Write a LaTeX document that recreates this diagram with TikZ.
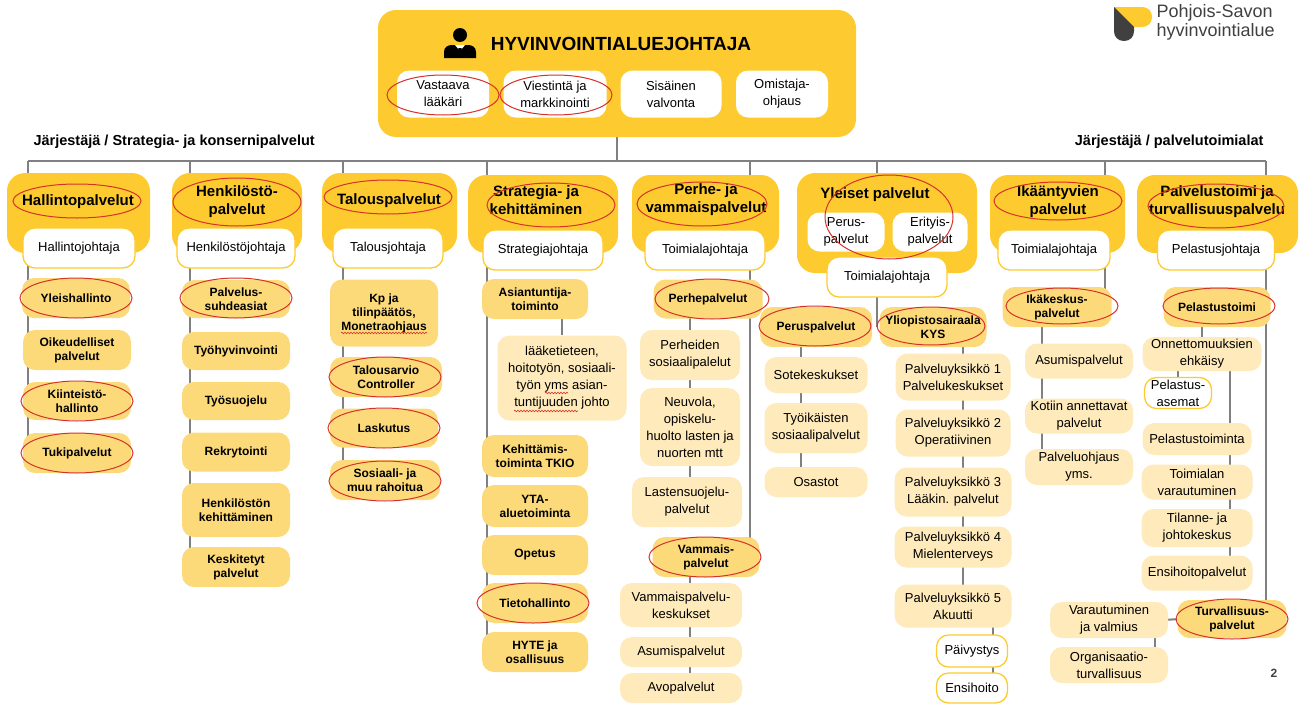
\documentclass[tikz,border=0pt]{standalone}
\usepackage{fontspec}
\setmainfont{Liberation Sans}
\usetikzlibrary{decorations.pathmorphing}
\definecolor{gold}{RGB}{253,203,47}
\definecolor{subdark}{RGB}{252,218,122}
\definecolor{sublight}{RGB}{254,234,186}
\definecolor{lgray}{RGB}{128,128,128}
\definecolor{ringred}{RGB}{214,50,42}
\definecolor{logogray}{RGB}{64,64,64}
\pgfdeclarelayer{bg}
\pgfsetlayers{bg,main}
\newcommand\fs[2]{\fontsize{#1}{#2}\selectfont}

\begin{document}
\begin{tikzpicture}[x=1pt,y=-1pt,
  wh/.style 2 args={minimum width=#1,minimum height=#2,inner sep=1},
  hdr/.style={fill=gold,rounded corners=18},
  htxt/.style={font=\fs{15}{18}\bfseries,align=center},
  wbox/.style={fill=white,draw=gold,line width=1.3,rounded corners=12,font=\fs{13}{17},align=center},
  ibox/.style={fill=white,rounded corners=12,font=\fs{13}{17},align=center},
  sbold/.style={fill=subdark,rounded corners=12,font=\fs{12}{14}\bfseries,align=center},
  slight/.style={fill=sublight,rounded corners=12,font=\fs{13}{17},align=center},
  sect/.style={font=\fs{14.5}{17}\bfseries},
  conn/.style={draw=lgray,line width=2},
  ring/.style={draw=ringred,line width=1},
  squig/.style={draw=ringred,line width=0.6,decorate,decoration={snake,amplitude=0.8,segment length=3}}]
\useasboundingbox (0,0) rectangle (1300,704);

% logo
\fill[gold] (1114,7) -- (1142,7) .. controls (1148,7) and (1152,11) .. (1152,17) .. controls (1152,23) and (1148,27) .. (1142,27) -- (1134,27) -- cycle;
\fill[logogray] (1114,7) -- (1134,27) -- (1134,31) .. controls (1134,37) and (1130,41) .. (1124,41) .. controls (1118,41) and (1114,37) .. (1114,31) -- cycle;
\node[anchor=west,align=left,text=logogray,font=\fs{18}{19}] (logo) at (1153,22) {Pohjois-Savon\\hyvinvointialue};

% johtaja
\node[hdr,wh={478}{127}] (top) at (617,73.5) {};
\node[font=\fs{19}{22}\bfseries] (ttl) at (621,44) {HYVINVOINTIALUEJOHTAJA};
\fill (460,35) circle[radius=7];
\fill (444,58) -- (444,52) .. controls (444,47) and (448,45) .. (452,45) -- (468,45) .. controls (472,45) and (476,47) .. (476,52) -- (476,58) -- cycle;
\fill[white] (455,45) -- (460,51) -- (465,45) -- cycle;
\fill (458.5,48) -- (461.5,48) -- (462,57) -- (458,57) -- cycle;
\node[ibox,wh={92}{47}] (vast) at (443,94) {Vastaava\\lääkäri};
\node[ibox,wh={103}{47}] (viest) at (555,94) {Viestintä ja\\markkinointi};
\node[ibox,wh={101}{47}] (sisa) at (671,94) {Sisäinen\\valvonta};
\node[ibox,wh={92}{47}] (omis) at (782,94) {Omistaja-\\ohjaus};

\node[sect,anchor=west] (lbl1) at (30,142) {Järjestäjä / Strategia- ja konsernipalvelut};
\node[sect,anchor=east] (lbl2) at (1267,142) {Järjestäjä / palvelutoimialat};

% Hallintopalvelut
\node[hdr,wh={143}{80}] (hal) at (78.5,213) {};
\node[htxt] (hal-t) at (78,202) {Hallintopalvelut};
\node[wbox,wh={112}{40}] (hal-j) at (79,248) {Hallintojohtaja};
\node[sbold,wh={108}{40}] (yh) at (76,298) {Yleishallinto};
\node[sbold,wh={108}{40}] (oik) at (77,350) {Oikeudelliset\\palvelut};
\node[sbold,wh={108}{38}] (kii) at (77,401) {Kiinteistö-\\hallinto};
\node[sbold,wh={108}{40}] (tuk) at (77,453) {Tukipalvelut};

% Henkilostopalvelut
\node[hdr,wh={130}{80}] (hen) at (237,213) {};
\node[htxt] (hen-t) at (237,202) {Henkilöstö-\\palvelut};
\node[wbox,wh={118}{40}] (hen-j) at (236,248) {Henkilöstöjohtaja};
\node[sbold,wh={108}{38}] (psa) at (236,299) {Palvelus-\\suhdeasiat};
\node[sbold,wh={108}{38}] (tyh) at (236,351) {Työhyvinvointi};
\node[sbold,wh={108}{38}] (tys) at (236,401) {Työsuojelu};
\node[sbold,wh={108}{39}] (rek) at (236,452) {Rekrytointi};
\node[sbold,wh={108}{54}] (hke) at (236,510) {Henkilöstön\\kehittäminen};
\node[sbold,wh={108}{40}] (kes) at (236,567) {Keskitetyt\\palvelut};

% Talouspalvelut
\node[hdr,wh={135}{80}] (tal) at (389.5,213) {};
\node[htxt] (tal-t) at (389,201) {Talouspalvelut};
\node[wbox,wh={110}{40}] (tal-j) at (388,248) {Talousjohtaja};
\node[sbold,wh={108}{67}] (kp) at (384,313) {Kp ja\\tilinpäätös,\\Monetraohjaus};
\node[sbold,wh={112}{40}] (tar) at (386,377) {Talousarvio\\Controller};
\node[sbold,wh={108}{39}] (las) at (384,428) {Laskutus};
\node[sbold,wh={110}{40}] (sos) at (385,480) {Sosiaali- ja\\muu rahoitua};

% Strategia
\node[hdr,wh={150}{78}] (str) at (543,214) {};
\node[htxt] (str-t) at (536,200) {Strategia- ja\\kehittäminen};
\node[wbox,wh={120}{40}] (str-j) at (543,250) {Strategiajohtaja};
\node[sbold,wh={106}{40}] (asi) at (535,299) {Asiantuntija-\\toiminto};
\node[slight,wh={129}{85}] (laa) at (562,378) {lääketieteen,\\hoitotyön, sosiaali-\\työn yms asian-\\tuntijuuden johto};
\node[sbold,wh={106}{42}] (keh) at (535,456) {Kehittämis-\\toiminta TKIO};
\node[sbold,wh={106}{42}] (yta) at (535,506) {YTA-\\aluetoiminta};
\node[sbold,wh={106}{40}] (ope) at (535,555) {Opetus};
\node[sbold,wh={106}{40}] (tie) at (535,603) {Tietohallinto};
\node[sbold,wh={106}{40}] (hyt) at (535,652) {HYTE ja\\osallisuus};

% Perhe- ja vammaispalvelut
\node[hdr,wh={147}{78}] (per) at (705.5,214) {};
\node[htxt] (per-t) at (706,200) {Perhe- ja\\vammaispalvelut};
\node[wbox,wh={120}{40}] (per-j) at (705,250) {Toimialajohtaja};
\node[sbold,wh={109}{39}] (php) at (708,299) {Perhepalvelut};
\node[slight,wh={100}{50}] (pso) at (690,355) {Perheiden\\sosiaalipalelut};
\node[slight,wh={100}{78}] (neu) at (690,427) {Neuvola,\\opiskelu-\\huolto lasten ja\\nuorten mtt};
\node[slight,wh={110}{50}] (lsu) at (687,502) {Lastensuojelu-\\palvelut};
\node[sbold,wh={107}{40}] (vam) at (706,557) {Vammais-\\palvelut};
\node[slight,wh={122}{44}] (vpk) at (681,605) {Vammaispalvelu-\\keskukset};
\node[slight,wh={122}{30}] (asu) at (681,652) {Asumispalvelut};
\node[slight,wh={122}{30}] (avo) at (681,688) {Avopalvelut};

% Yleiset palvelut
\node[hdr,wh={180}{100}] (yle) at (887,223) {};
\node[htxt] (yle-t) at (875,195) {Yleiset palvelut};
\node[ibox,wh={77}{39}] (yperus) at (846,232) {Perus-\\palvelut};
\node[ibox,wh={75}{39}] (yeri) at (930,232) {Erityis-\\palvelut};
\node[wbox,wh={120}{40}] (yle-j) at (887,277) {Toimialajohtaja};
\node[sbold,wh={112}{40}] (pp) at (816,327) {Peruspalvelut};
\node[sbold,wh={107}{40}] (kys) at (933,327) {Yliopistosairaala\\KYS};
\node[slight,wh={103}{36}] (sot) at (816,375) {Sotekeskukset};
\node[slight,wh={103}{50}] (tyo) at (816,428) {Työikäisten\\sosiaalipalvelut};
\node[slight,wh={103}{30}] (osa) at (816,482) {Osastot};
\node[slight,wh={115}{47}] (py1) at (953,377) {Palveluyksikkö 1\\Palvelukeskukset};
\node[slight,wh={115}{47}] (py2) at (953,433) {Palveluyksikkö 2\\Operatiivinen};
\node[slight,wh={117}{49}] (py3) at (953,492) {Palveluyksikkö 3\\Lääkin. palvelut};
\node[slight,wh={117}{41}] (py4) at (953,547) {Palveluyksikkö 4\\Mielenterveys};
\node[slight,wh={117}{43}] (py5) at (953,606) {Palveluyksikkö 5\\Akuutti};
\node[wbox,wh={71}{32}] (pai) at (972,651) {Päivystys};
\node[wbox,wh={71}{30}] (ens) at (972,688) {Ensihoito};

% Ikaantyvien palvelut
\node[hdr,wh={135}{78}] (ika) at (1057.5,214) {};
\node[htxt] (ika-t) at (1058,202) {Ikääntyvien\\palvelut};
\node[wbox,wh={112}{40}] (ika-j) at (1054,250) {Toimialajohtaja};
\node[sbold,wh={109}{40}] (ikk) at (1057,307) {Ikäkeskus-\\palvelut};
\node[slight,wh={108}{35}] (ias) at (1079,361) {Asumispalvelut};
\node[slight,wh={108}{35}] (kot) at (1079,416) {Kotiin annettavat\\palvelut};
\node[slight,wh={108}{36}] (pal) at (1079,467) {Palveluohjaus\\yms.};

% Palvelustoimi ja turvallisuuspalvelu
\node[hdr,wh={161}{78}] (pst) at (1217.5,214) {};
\node[htxt] (pst-t) at (1217,202) {Palvelustoimi ja\\turvallisuuspalvelu};
\node[wbox,wh={117}{40}] (pst-j) at (1216,250) {Pelastusjohtaja};
\node[sbold,wh={107}{40}] (pel) at (1217,307) {Pelastustoimi};
\node[slight,wh={119}{34}] (onn) at (1202,354) {Onnettomuuksien\\ehkäisy};
\node[wbox,wh={67}{31}] (pas) at (1178,393) {Pelastus-\\asemat};
\node[slight,wh={109}{32}] (pto) at (1197,439) {Pelastustoiminta};
\node[slight,wh={111}{35}] (tva) at (1197,482) {Toimialan\\varautuminen};
\node[slight,wh={111}{38}] (til) at (1197,528) {Tilanne- ja\\johtokeskus};
\node[slight,wh={111}{35}] (eho) at (1197,573) {Ensihoitopalvelut};
\node[sbold,wh={109}{38}] (tur) at (1232,619) {Turvallisuus-\\palvelut};
\node[slight,wh={118}{36}] (var) at (1109,620) {Varautuminen\\ja valmius};
\node[slight,wh={118}{36}] (org) at (1109,665) {Organisaatio-\\turvallisuus};

\node[font=\fs{12}{14}\bfseries,text=logogray] (pg) at (1274,673) {2};

% connectors behind the boxes
\begin{pgfonlayer}{bg}
\coordinate (busL) at (28,161);
\coordinate (busR) at (1266,161);
\draw[conn] (busL) -- (busR);
\draw[conn] (top.south) -- (top.south |- busL);
\foreach \c/\x/\e in {c1/28/tuk,c2/190/kes,c3/343/sos,c4/487/hyt,c5/750/vam,c6/877/kys,c7/1105/ikk,c8/1266/tur}{
  \coordinate (\c) at (\x,161);
  \draw[conn] (\c) -- (\c |- \e);}
\draw[conn] (asi.south -| laa) -- (laa.north);
\draw[conn] (php -| pso) -- (lsu -| pso);
\draw[conn] (vam -| pso) -- (avo -| pso);
\draw[conn] ([xshift=-15]pp.center) -- ([xshift=-15]osa.center);
\draw[conn] ([xshift=10]py1.center |- kys.center) -- ([xshift=10]py5.center);
\draw[conn] ([xshift=21]pai.center |- py5.center) -- ([xshift=21]ens.center);
\draw[conn] ([xshift=-37]ias.center |- ikk.center) -- ([xshift=-37]pal.center);
\draw[conn] (onn |- pel) -- (onn);
\draw[conn] (pas |- onn) -- (pas);
\draw[conn] ([xshift=28]onn.center) -- ([xshift=28]onn.center |- eho.center);
\draw[conn] (var) -- (tur);
\draw[conn] ([xshift=46]var.center) -- ([xshift=46]org.center);
\end{pgfonlayer}

% red rings
\foreach \p/\rx/\ry in {{443,95}/56/20,{556,95}/56/20,{77,201}/64/17,{237,202}/64/24,{388,197}/64/17,
  {551,205}/64/22,{702,204}/65/22,{889,217}/64/42,{1058,201}/64/19,{1216,206}/68/22,
  {76,298}/56/20,{77,401}/56/20,{77,453}/56/20,{236,298}/56/20,{385,377}/56/20,{384,428}/56/20,
  {385,481}/56/20,{533,603}/56/20,{712,299}/57/20,{705,557}/56/20,{815,326}/56/20,{931,326}/54/19,
  {1062,306}/56/18,{1219,306}/56/18,{1232,619}/56/20}
  \draw[ring] (\p) ellipse[x radius=\rx,y radius=\ry];
\draw[squig] (341,333) -- (427,333);
\draw[squig] (545,393) -- (568,393);
\draw[squig] (514,411) -- (578,411);
\end{tikzpicture}
\end{document}
